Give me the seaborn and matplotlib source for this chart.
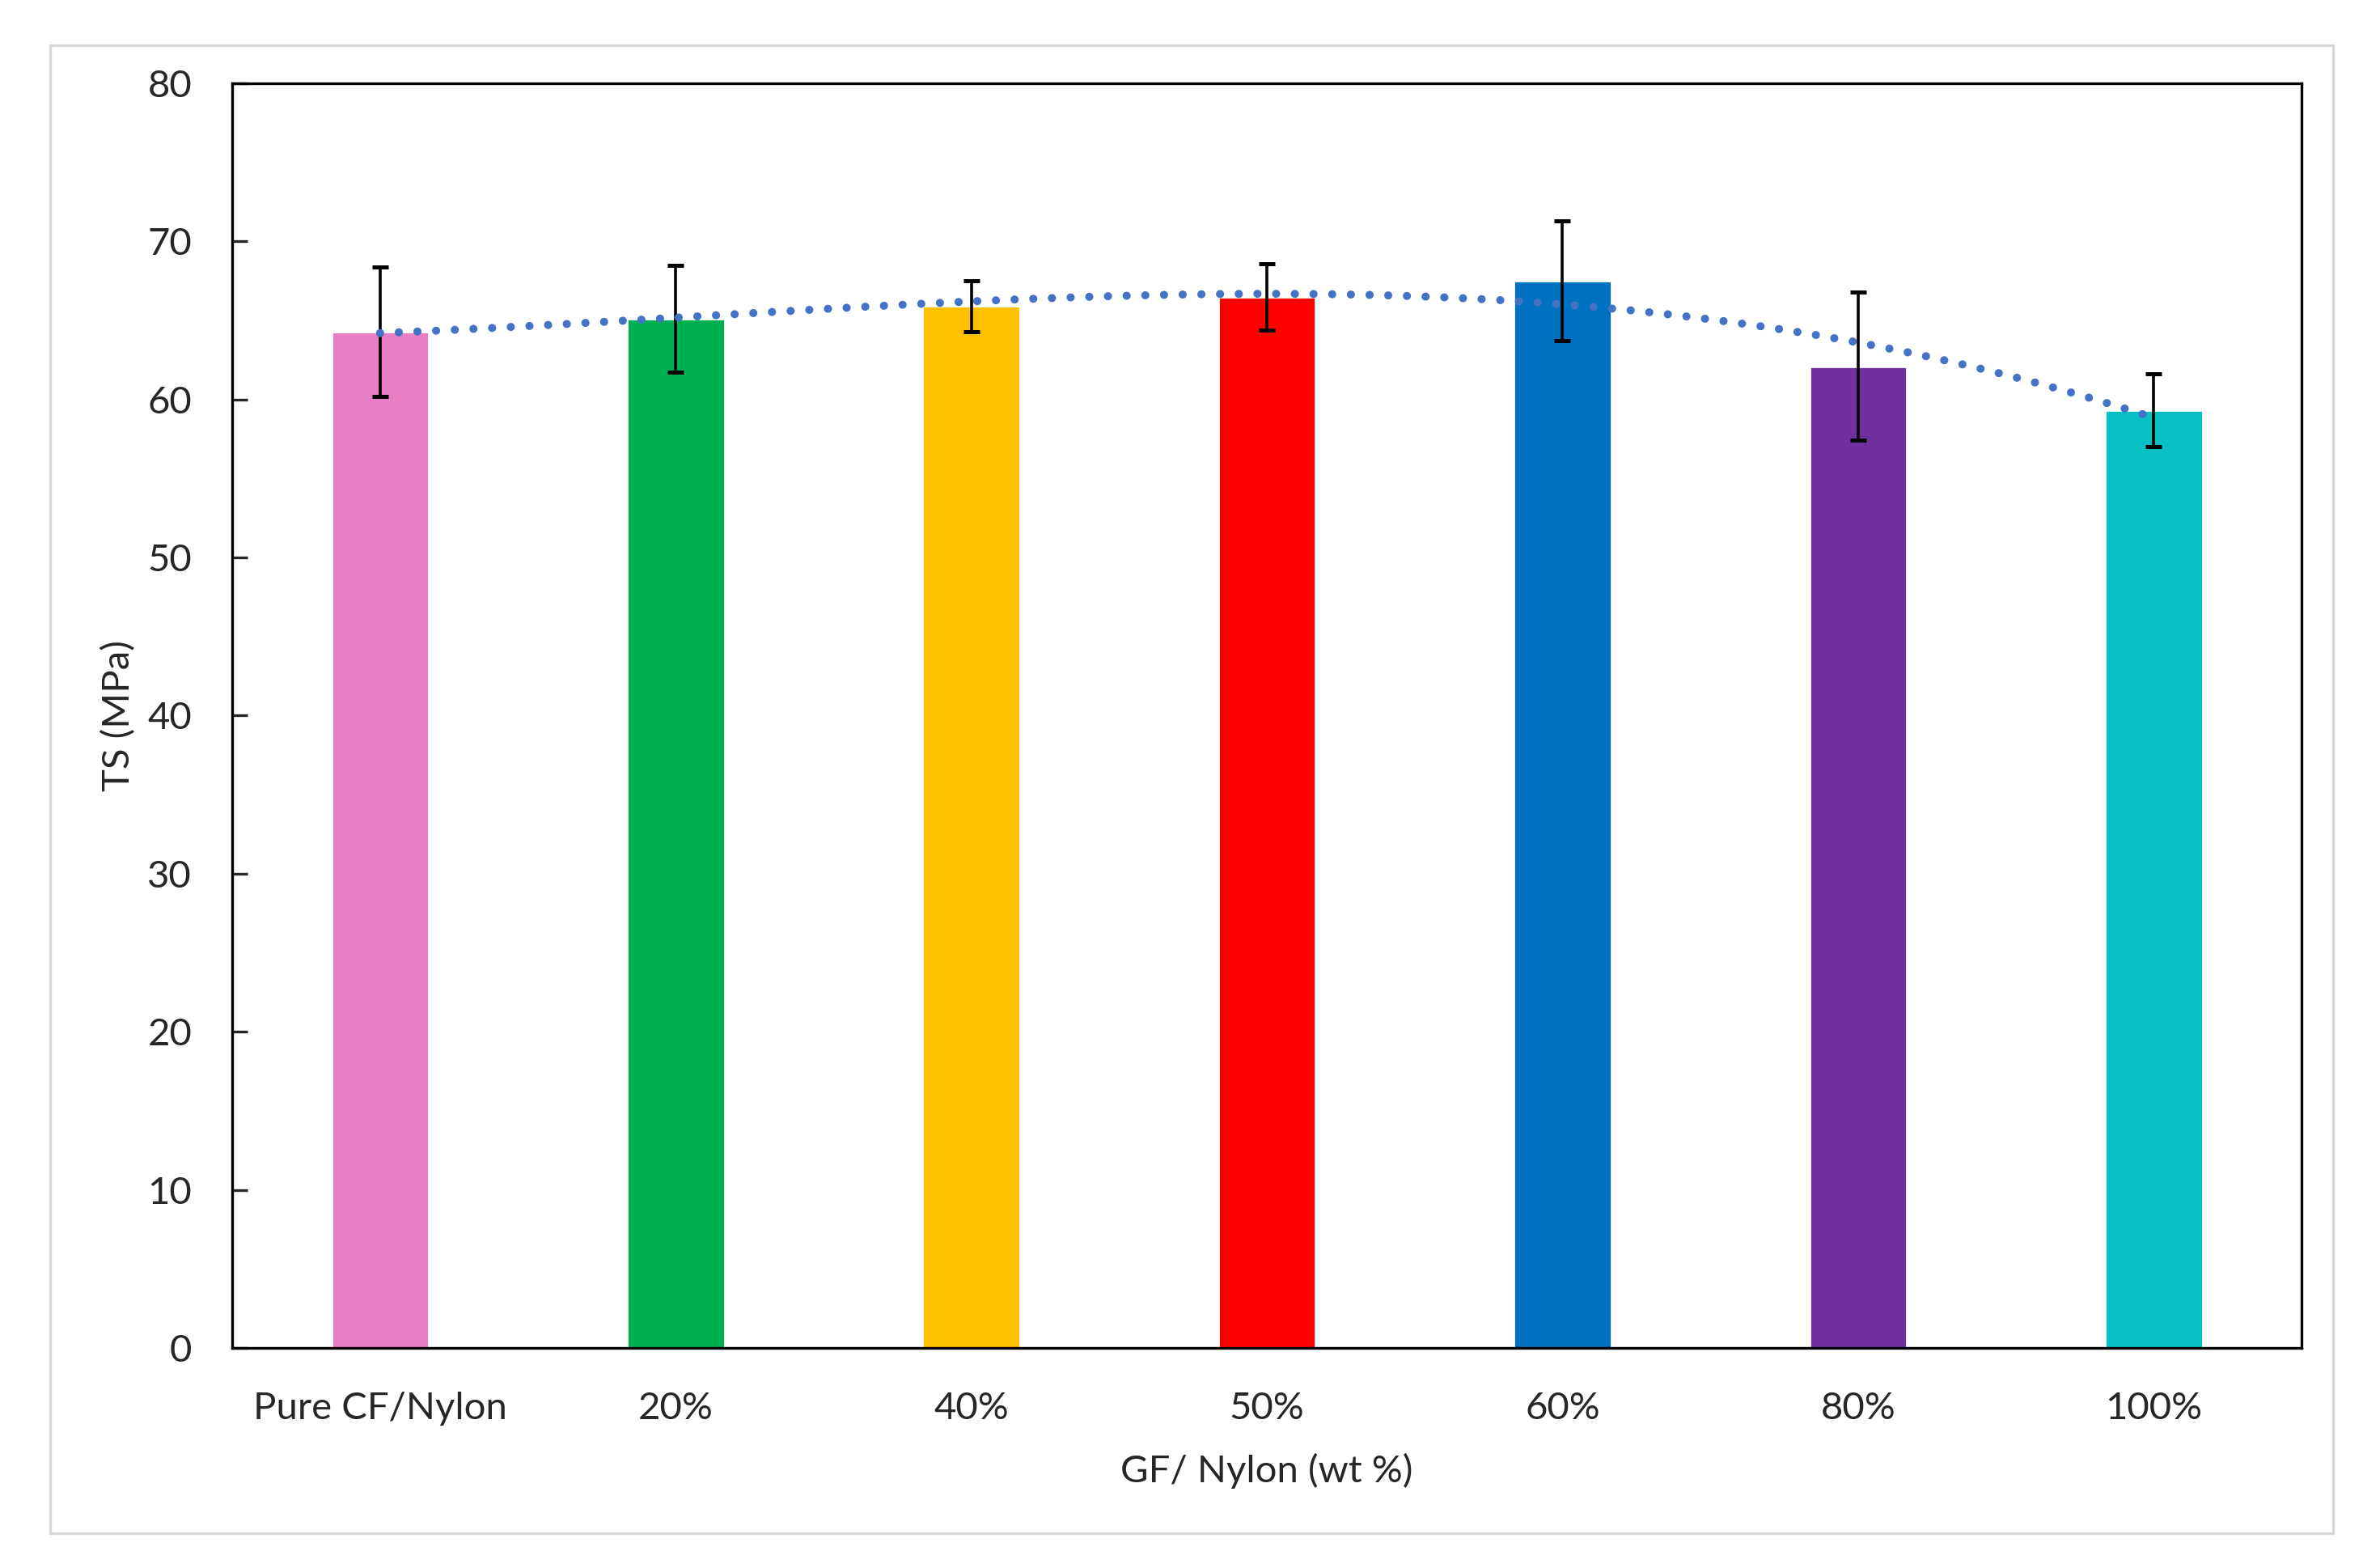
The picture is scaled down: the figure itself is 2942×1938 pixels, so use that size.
"""
Tensile strength of CF/Nylon samples with varying GF content.
"""

import matplotlib
matplotlib.use("Agg")
import matplotlib.pyplot as plt
from matplotlib.patches import Rectangle
import numpy as np
import seaborn as sns

# Data.
categories = ["Pure CF/Nylon", "20%", "40%", "50%", "60%", "80%", "100%"]
ts_mean = [64.3, 65.1, 65.9, 66.5, 67.5, 62.1, 59.3]
ts_err = [4.1, 3.4, 1.6, 2.1, 3.8, 4.7, 2.3]
bar_colors = ["#E87FC4", "#00B050", "#FFC000", "#FF0000", "#0070C0", "#7030A0", "#08C0C4"]


def plot_tensile_strength() -> None:
    sns.set_style("white")
    plt.rcParams["font.family"] = ["Lato", "DejaVu Sans"]

    fig = plt.figure(figsize=(14.71, 9.69), dpi=200)
    ax = fig.add_axes([0.0976, 0.1404, 0.8694, 0.8065])

    # Light grey frame around the whole chart area.
    fig.patches.append(Rectangle(
        (0.0211, 0.0222), 0.9592, 0.9489,
        transform=fig.transFigure, fill=False,
        edgecolor="#D9D9D9", linewidth=1.2, zorder=0
    ))

    sns.barplot(
        x=categories, y=ts_mean, hue=categories,
        palette=bar_colors, width=0.33, legend=False,
        saturation=1, ax=ax, zorder=2
    )

    positions = np.arange(len(categories))
    ax.errorbar(
        positions, ts_mean, yerr=ts_err, fmt="none",
        ecolor="black", elinewidth=1.3, capsize=3.6, capthick=1.8, zorder=3
    )

    # Polynomial (order 3) trendline, like the dotted line in the original.
    sns.regplot(
        x=positions, y=ts_mean, order=3, ci=None, scatter=False, ax=ax,
        line_kws=dict(color="#4472C4", linewidth=3.6,
                      linestyle=(0, (0.01, 2.3)), dash_capstyle="round",
                      zorder=4)
    )

    ax.set_xlim(-0.5, len(categories) - 0.5)
    ax.set_ylim(0, 80)
    ax.set_yticks(range(0, 81, 10))
    ax.set_xticks(positions)
    ax.set_xticklabels(categories)

    for spine in ax.spines.values():
        spine.set_visible(True)
        spine.set_color("black")
        spine.set_linewidth(1.2)

    ax.tick_params(axis="y", direction="in", length=7, width=1.2,
                   pad=18, labelsize=17, left=True)
    ax.tick_params(axis="x", length=0, pad=19.5, labelsize=17)

    ax.set_xlabel("GF/ Nylon (wt %)", fontsize=17, labelpad=12)
    ax.set_ylabel("TS (MPa)", fontsize=17, labelpad=5)

    fig.savefig("out.png", dpi=200, facecolor="white")


if __name__ == "__main__":
    plot_tensile_strength()
